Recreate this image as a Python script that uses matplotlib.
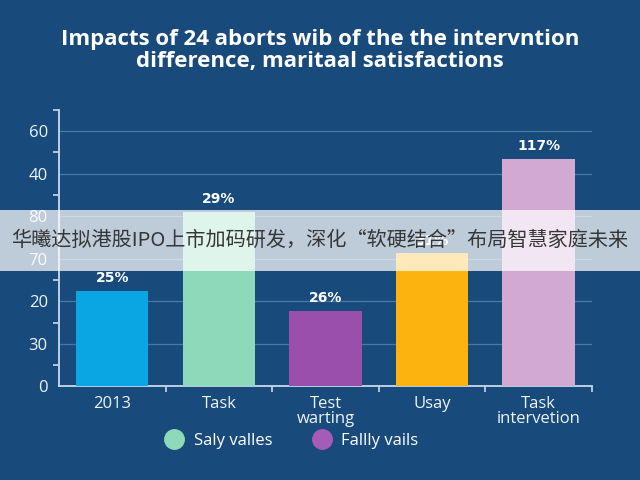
import matplotlib
matplotlib.use('Agg')
import matplotlib.pyplot as plt
from matplotlib.lines import Line2D
from matplotlib.patches import Rectangle
import numpy as np

# data (grid step = 10 units)
categories = ['2013', 'Task', 'Test\nwarting', 'Usay', 'Task\nintervetion']
values = [22.4, 41.1, 17.8, 31.3, 53.5]
bar_labels = ['25%', '29%', '26%', '31%', '117%']
bar_colors = ['#0aa6e3', '#8ed9b9', '#9b4fac', '#fdb30f', '#d1a9d3']
ytick_pos = [0, 10, 20, 30, 40, 50, 60]
ytick_labels = ['0', '30', '20', '70', '80', '40', '60']
legend_labels = ['Saly valles', 'Fallly vails']
legend_colors = ['#8ed9b9', '#a45cb8']
title = 'Impacts of 24 aborts wib of the the intervntion\ndifference, maritaal satisfactions'
banner = '华曦达拟港股IPO上市加码研发，深化“软硬结合”布局智慧家庭未来'

BG = '#184b7c'
plt.rcParams['font.family'] = ['Open Sans', 'DejaVu Sans']

fig = plt.figure(figsize=(6.4, 4.8), dpi=100, facecolor=BG)
ax = fig.add_axes([0.092, 0.195, 0.833, 0.576], facecolor=BG)

x = np.arange(len(categories))
ax.bar(x, values, width=0.68, color=bar_colors, zorder=3)
for xi, v, lab in zip(x, values, bar_labels):
    ax.text(xi, v + 3.0, lab, ha='center', va='center', color='white',
            fontsize=10, fontweight='bold', family='DejaVu Sans', zorder=4)

ax.set_xlim(-0.5, 4.5)
ax.set_ylim(0, 65)
ax.set_yticks(ytick_pos)
ax.set_yticklabels(ytick_labels)
ax.set_yticks(np.arange(5, 66, 10), minor=True)
ax.set_xticks(x)
ax.set_xticklabels(categories, linespacing=0.9)
ax.set_xticks(np.arange(0.5, 4.6, 1), minor=True)
ax.grid(axis='y', color='#4a77a5', lw=0.9, zorder=0)

ax.tick_params(which='major', length=0, colors='#eef3f8', labelsize=12)
ax.tick_params(axis='y', which='major', pad=8)
ax.tick_params(axis='x', which='major', pad=7)
ax.tick_params(which='minor', length=4, width=1.2, color='#c9d9ea')
for s in ('top', 'right'):
    ax.spines[s].set_visible(False)
for s in ('left', 'bottom'):
    ax.spines[s].set_color('#c9d9ea')
    ax.spines[s].set_linewidth(1.3)

fig.text(0.5, 0.895, title, ha='center', va='center', color='white',
         fontsize=16, fontweight='bold', linespacing=1.1)

handles = [Line2D([], [], ls='', marker='o', markersize=14, color=c) for c in legend_colors]
fig.legend(handles, legend_labels, loc='center', bbox_to_anchor=(0.45, 0.081),
           ncol=2, frameon=False, labelcolor='white', fontsize=12,
           handletextpad=0.15, columnspacing=2.0)

# translucent news banner across the middle
fig.patches.append(Rectangle((0, 0.4354), 1, 0.127, transform=fig.transFigure,
                             facecolor='white', alpha=0.72, edgecolor='none', zorder=10))
fig.text(0.5, 0.499, banner, ha='center', va='center', color='#363636', fontsize=14.5,
         family=['Noto Sans CJK SC', 'DejaVu Sans'], zorder=11)

fig.savefig('out.png', dpi=100, facecolor=BG)
